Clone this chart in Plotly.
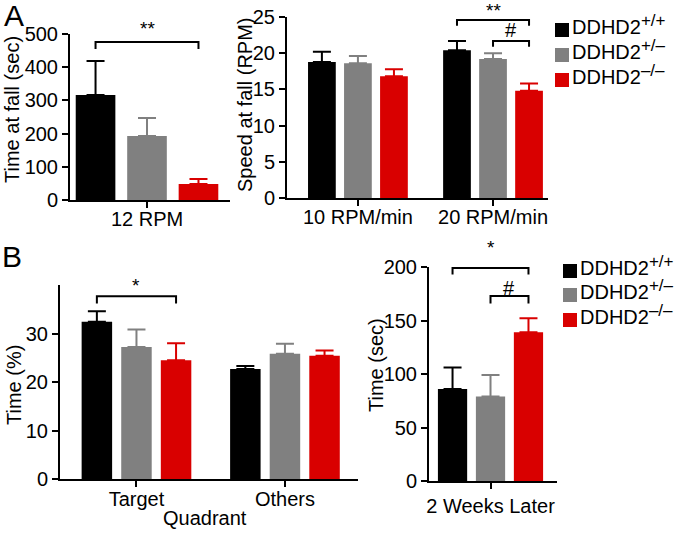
import plotly.graph_objects as go

# ---------------- data ----------------
group_base = "DDHD2"
group_sup = ["+/+", "+/–", "–/–"]
colors = ["#000000", "#808080", "#d90000"]

a1_cats = ["12 RPM"]
a1_wt = [316]; a1_het = [193]; a1_ko = [48]
a1_wt_err = [103]; a1_het_err = [54]; a1_ko_err = [15]

a2_cats = ["10 RPM/min", "20 RPM/min"]
a2_wt = [18.8, 20.4]; a2_het = [18.6, 19.2]; a2_ko = [16.8, 14.8]
a2_wt_err = [1.4, 1.3]; a2_het_err = [1.0, 0.8]; a2_ko_err = [1.0, 1.0]

b1_cats = ["Target", "Others"]
b1_wt = [32.4, 22.7]; b1_het = [27.2, 25.8]; b1_ko = [24.5, 25.4]
b1_wt_err = [2.2, 0.6]; b1_het_err = [3.6, 2.1]; b1_ko_err = [3.5, 1.1]

b2_cats = ["2 Weeks Later"]
b2_wt = [86]; b2_het = [79]; b2_ko = [139]
b2_wt_err = [20]; b2_het_err = [20]; b2_ko_err = [13]

a1_range = [0, 500]; a1_ticks = [0, 100, 200, 300, 400, 500]
a2_range = [0, 25]; a2_ticks = [0, 5, 10, 15, 20, 25]
b1_range = [0, 40]; b1_ticks = [0, 10, 20, 30]
b2_range = [0, 200]; b2_ticks = [0, 50, 100, 150, 200]

BARGAP = 0.2
GROUPGAP = 0.23
SLOT = (1 - BARGAP) / 3
FONT = "Liberation Sans, Arial, Helvetica, sans-serif"

W, H = 680, 533
def px(x): return x / W
def py(y): return 1 - y / H

fig = go.Figure()

panels = [
    ("x", "y", a1_cats, [a1_wt, a1_het, a1_ko], [a1_wt_err, a1_het_err, a1_ko_err]),
    ("x2", "y2", a2_cats, [a2_wt, a2_het, a2_ko], [a2_wt_err, a2_het_err, a2_ko_err]),
    ("x3", "y3", b1_cats, [b1_wt, b1_het, b1_ko], [b1_wt_err, b1_het_err, b1_ko_err]),
    ("x4", "y4", b2_cats, [b2_wt, b2_het, b2_ko], [b2_wt_err, b2_het_err, b2_ko_err]),
]
for xa, ya, cats, vals, errs in panels:
    for i in range(3):
        fig.add_trace(go.Bar(
            x=cats, y=vals[i], name=group_base + group_sup[i], xaxis=xa, yaxis=ya,
            marker=dict(color=colors[i], line=dict(width=0)),
            error_y=dict(type="data", symmetric=False, array=errs[i],
                         arrayminus=[0] * len(cats), color=colors[i],
                         thickness=2, width=9),
            showlegend=False, offsetgroup=str(i), hoverinfo="skip",
        ))

axis_common = dict(showline=True, linecolor="black", linewidth=2, ticks="outside",
                   ticklen=6, tickwidth=2, tickcolor="black", showgrid=False,
                   zeroline=False, automargin=False,
                   tickfont=dict(size=20, color="black", family=FONT))

fig.update_layout(
    width=W, height=H, margin=dict(l=0, r=0, t=0, b=0, autoexpand=False),
    paper_bgcolor="white", plot_bgcolor="white", showlegend=False,
    barmode="group", bargap=BARGAP, bargroupgap=GROUPGAP,
    font=dict(family=FONT, color="black", size=20),
    xaxis=dict(domain=[px(70), px(230)], anchor="y", range=[-0.399, 0.430],
               ticklabelstandoff=-6, **axis_common),
    yaxis=dict(domain=[py(200), py(34)], anchor="x", range=a1_range, tickvals=a1_ticks, **axis_common),
    xaxis2=dict(domain=[px(287), px(548)], anchor="y2", range=[-0.525, 1.407],
                ticklabelstandoff=-6, **axis_common),
    yaxis2=dict(domain=[py(198), py(17)], anchor="x2", range=a2_range, tickvals=a2_ticks, **axis_common),
    xaxis3=dict(domain=[px(60), px(358)], anchor="y3", range=[-0.515, 1.492],
                ticklabelstandoff=-5, **axis_common),
    yaxis3=dict(domain=[py(479), py(285)], anchor="x3", range=b1_range, tickvals=b1_ticks, **axis_common),
    xaxis4=dict(domain=[px(429), px(557)], anchor="y4", range=[-0.432, 0.467], **axis_common),
    yaxis4=dict(domain=[py(481), py(267)], anchor="x4", range=b2_range, tickvals=b2_ticks, **axis_common),
)

def txt(x, y, text, size=20, angle=0, xanchor="center", yanchor="middle"):
    fig.add_annotation(xref="paper", yref="paper", x=px(x), y=py(y), text=text, showarrow=False,
                       textangle=angle, xanchor=xanchor, yanchor=yanchor,
                       font=dict(size=size, color="black", family=FONT))

# axis titles
txt(12, 110, "Time at fall (sec)", angle=-90)
txt(245, 105, "Speed at fall (RPM)", angle=-90)
txt(14, 385, "Time (%)", angle=-90)
txt(376, 365, "Time (sec)", angle=-90)
txt(205, 518, "Quadrant")

# panel letters
txt(14, 15, "A", size=30)
txt(12, 256, "B", size=30)

def dom(v, rng):
    return (v - rng[0]) / (rng[1] - rng[0])

def bracket(xa, ydom, rng, x0, x1, y, drop, text, ty, size=19):
    fig.add_shape(type="path", xref=xa, yref=ydom + " domain",
                  path=f"M {x0},{dom(y - drop, rng)} L {x0},{dom(y, rng)} L {x1},{dom(y, rng)} L {x1},{dom(y - drop, rng)}",
                  line=dict(color="black", width=2))
    fig.add_annotation(xref=xa, yref=ydom + " domain", x=(x0 + x1) / 2, y=dom(ty, rng), text=text,
                       showarrow=False, font=dict(size=size, color="black", family=FONT),
                       yanchor="middle")

bracket("x", "y", a1_range, 0 - SLOT, 0 + SLOT, 476, 21, "**", 518)
bracket("x2", "y2", a2_range, 1 - SLOT, 1 + SLOT, 24.6, 0.8, "**", 25.9)
bracket("x2", "y2", a2_range, 1, 1 + SLOT, 21.7, 0.8, "#", 23.2, size=20)
bracket("x3", "y3", b1_range, 0 - SLOT, 0 + SLOT, 37.7, 1.5, "*", 39.8)
bracket("x4", "y4", b2_range, 0 - SLOT, 0 + SLOT, 199, 6, "*", 218)
bracket("x4", "y4", b2_range, 0, 0 + SLOT, 173, 7, "#", 180, size=20)

# legends (drawn as squares + text)
def legend(x_sq, y_rows):
    for i, yc in enumerate(y_rows):
        fig.add_shape(type="rect", xref="paper", yref="paper",
                      x0=px(x_sq), x1=px(x_sq + 14), y0=py(yc + 7), y1=py(yc - 7),
                      fillcolor=colors[i], line=dict(width=0))
        fig.add_annotation(xref="paper", yref="paper", x=px(x_sq + 15), y=py(yc + 10),
                           text=group_base + "<sup><span style='font-size:17px'>" + group_sup[i] + "</span></sup>",
                           showarrow=False, xanchor="left", yanchor="bottom",
                           font=dict(size=20, color="black", family=FONT))

legend(555, [30, 55, 80])
legend(563, [271, 295, 320])

fig.write_html("out.html", config={"displayModeBar": False, "staticPlot": True},
               post_script="document.body.style.margin='0px';document.body.style.overflow='hidden';")
